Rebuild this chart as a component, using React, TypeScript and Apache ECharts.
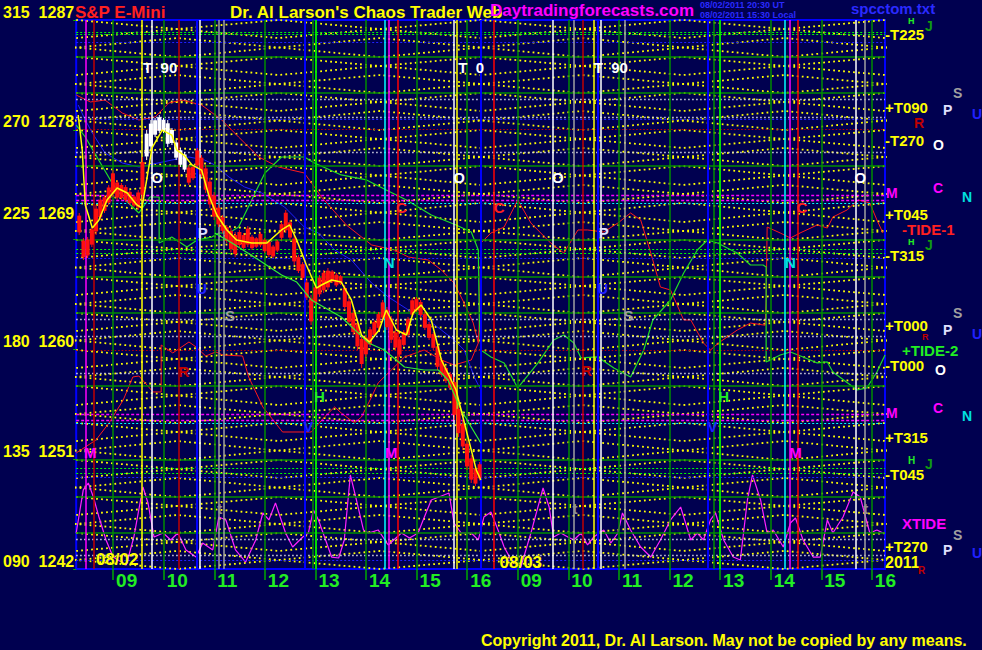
import React, { useEffect, useRef } from "react";
import * as echarts from "echarts";

const BG = "#000050";
const FONT = '"Liberation Sans", Arial, sans-serif';
const NARROW = '"Liberation Sans Narrow", "Liberation Sans", Arial, sans-serif';

// ---------- axes ----------
const priceTicks = [1242, 1251, 1260, 1269, 1278, 1287];
const degreeTicks = ["090", "135", "180", "225", "270", "315"];
const hourTicks = [9, 10, 11, 12, 13, 14, 15, 16, 17, 18, 19, 20, 21, 22, 23, 24];
const hourLabels = ["09", "10", "11", "12", "13", "14", "15", "16", "09", "10", "11", "12", "13", "14", "15", "16"];
const X_MIN = 8.27;
const X_MAX = 24.26;

// ---------- 5-minute bars of 08/02 ----------
const candleStart = 8.33;
const candleStep = 5 / 60;
const candleHigh = [
  1271.18, 1269.13, 1269.21, 1270.03, 1271.83, 1272.49, 1272.65, 1273.47, 1274.7, 1273.88,
  1273.64, 1273.47, 1273.06, 1272.65, 1273.06, 1275.77, 1277.98, 1278.8, 1278.97, 1279.21,
  1278.97, 1278.8, 1278.15, 1277.16, 1276.51, 1276.18, 1275.11, 1275.11, 1276.51, 1275.93,
  1275.11, 1274.05, 1272.9, 1271.83, 1271.01, 1270.2, 1269.95, 1269.62, 1269.79, 1269.54,
  1270.11, 1269.38, 1269.21, 1269.62, 1269.13, 1268.97, 1268.56, 1268.97, 1270.44, 1271.43,
  1270.61, 1269.38, 1267.74, 1267.16, 1265.69, 1264.46, 1265.28, 1266.1, 1266.51, 1266.67,
  1266.51, 1266.26, 1266.1, 1265.28, 1264.21, 1263.23, 1262.41, 1261.18, 1261.18, 1261.84,
  1262.41, 1263.07, 1264.05, 1263.48, 1262.74, 1261.59, 1261.02, 1261.59, 1262.66, 1264.21,
  1264.3, 1264.05, 1263.07, 1262.25, 1261.43, 1260.52, 1259.3, 1258.64, 1258.15, 1257.74,
  1255.44, 1254.21, 1252.57, 1251.34, 1250.44, 1250.77,
];
const candleLow = [
  1269.38, 1267.33, 1267.49, 1268.39, 1269.38, 1270.61, 1271.18, 1271.83, 1272.49, 1272.25,
  1272.25, 1272.08, 1271.83, 1271.67, 1271.43, 1272.25, 1275.52, 1276.34, 1277.41, 1277.74,
  1277.74, 1276.59, 1276.75, 1275.52, 1274.95, 1274.54, 1273.47, 1273.88, 1274.87, 1274.13,
  1272.82, 1271.59, 1270.61, 1270.03, 1269.54, 1268.72, 1267.98, 1267.57, 1268.39, 1268.15,
  1268.39, 1268.15, 1268.31, 1268.39, 1267.9, 1267.57, 1267.49, 1267.98, 1268.97, 1269.54,
  1268.97, 1266.92, 1266.26, 1265.69, 1264.05, 1262.0, 1263.64, 1264.3, 1264.62, 1264.87,
  1265.44, 1265.11, 1265.28, 1263.23, 1262.0, 1261.18, 1259.95, 1258.48, 1259.38, 1260.2,
  1261.02, 1261.59, 1262.41, 1261.59, 1260.52, 1259.95, 1259.38, 1260.2, 1261.02, 1262.66,
  1263.07, 1262.66, 1261.59, 1260.77, 1259.95, 1258.31, 1257.74, 1257.25, 1256.67, 1254.21,
  1252.82, 1251.75, 1250.11, 1249.05, 1248.8, 1249.25,
];
const whiteCandles = [16, 17, 18, 19, 20, 21, 22, 23, 24, 25];

// ---------- curves: [hour, price] ----------
const priceAverage = [
  [8.31, 1279.21], [8.39, 1276.34], [8.45, 1271.84], [8.59, 1269.95], [8.72, 1270.61], [8.88, 1272.25],
  [9.08, 1273.23], [9.28, 1272.82], [9.47, 1271.84], [9.57, 1271.59], [9.67, 1274.05], [9.77, 1276.51],
  [9.97, 1277.98], [10.16, 1277.57], [10.26, 1276.34], [10.4, 1275.93], [10.56, 1275.12], [10.75, 1274.7],
  [10.89, 1272.66], [11.05, 1271.02], [11.25, 1269.79], [11.44, 1268.97], [11.74, 1268.72], [12.04, 1268.72],
  [12.33, 1269.79], [12.49, 1270.2], [12.63, 1268.97], [12.82, 1266.92], [13.02, 1265.03], [13.12, 1265.28],
  [13.32, 1265.69], [13.51, 1265.52], [13.71, 1264.05], [13.91, 1261.18], [14.07, 1260.61], [14.26, 1261.59],
  [14.4, 1263.23], [14.6, 1261.59], [14.8, 1261.18], [14.93, 1262.98], [15.09, 1263.64], [15.29, 1262.41],
  [15.49, 1259.13], [15.78, 1256.67], [15.98, 1253.39], [16.18, 1250.12], [16.27, 1249.3],
];
const priceTrend = [
  [11.01, 1269.54], [11.35, 1268.72], [11.88, 1267.33], [12.33, 1266.1], [12.63, 1265.52], [12.92, 1264.05],
  [13.51, 1262.66], [14.05, 1260.53], [14.36, 1259.95], [14.76, 1258.56], [15.15, 1258.31], [15.43, 1258.31],
  [15.62, 1257.49], [15.88, 1255.03], [16.08, 1253.64], [16.27, 1252.33],
];
const tide2 = [
  [8.27, 1278.39], [8.45, 1277.41], [8.98, 1273.64], [9.18, 1272.49], [9.51, 1271.18], [9.73, 1272.49],
  [9.91, 1272.49], [9.91, 1268.72], [10.16, 1269.21], [10.46, 1268.39], [10.66, 1268.97], [10.95, 1269.21],
  [11.09, 1269.54], [11.29, 1269.54], [11.48, 1270.03], [11.74, 1272.25], [12.0, 1274.46], [12.33, 1275.77],
  [12.78, 1275.77], [12.98, 1275.28], [13.51, 1274.3], [14.01, 1273.89], [14.4, 1273.07], [14.8, 1272.25],
  [15.29, 1271.02], [15.78, 1270.2], [16.08, 1269.62], [16.22, 1268.15], [16.24, 1262.41], [16.27, 1259.95],
  [16.47, 1259.38], [16.73, 1258.89], [17.0, 1256.84], [17.4, 1258.89], [17.71, 1260.77], [17.91, 1261.18],
  [18.11, 1260.53], [18.25, 1259.3], [18.58, 1259.38], [18.9, 1258.48], [19.23, 1257.74], [19.49, 1259.95],
  [19.67, 1262.41], [20.02, 1264.05], [20.28, 1266.26], [20.55, 1268.15], [20.75, 1268.97], [20.95, 1268.72],
  [21.14, 1268.31], [21.34, 1267.9], [21.6, 1266.92], [21.85, 1266.92], [21.91, 1266.75], [21.91, 1258.97],
  [22.19, 1259.54], [22.39, 1259.79], [22.64, 1259.38], [22.92, 1258.89], [23.12, 1258.97], [23.23, 1258.15],
  [23.71, 1256.67], [23.9, 1256.84], [24.1, 1258.15], [24.26, 1259.54],
];
const tide1 = [
  [8.27, 1280.85], [8.55, 1280.28], [8.84, 1280.44], [9.18, 1279.38], [9.51, 1278.8], [9.83, 1279.05],
  [10.1, 1280.2], [10.36, 1280.44], [10.75, 1280.03], [11.15, 1278.8], [11.48, 1277.41], [11.88, 1275.77],
  [12.27, 1274.95], [12.78, 1274.46], [13.12, 1272.49], [13.61, 1270.2], [14.11, 1268.56], [14.56, 1268.15],
  [14.84, 1267.57], [15.23, 1267.33], [15.49, 1266.51], [15.74, 1265.44], [15.94, 1263.8], [16.12, 1262.16],
  [16.22, 1260.53], [16.24, 1262.41], [16.27, 1268.72], [16.47, 1269.54], [16.73, 1270.03], [17.0, 1272.25],
  [17.26, 1270.36], [17.65, 1268.72], [17.91, 1267.9], [18.19, 1269.79], [18.38, 1269.79], [18.7, 1269.62],
  [18.98, 1270.36], [19.23, 1271.18], [19.43, 1270.61], [19.63, 1267.9], [19.82, 1265.11], [20.02, 1264.87],
  [20.28, 1262.41], [20.42, 1262.41], [20.67, 1260.53], [20.81, 1259.95], [20.97, 1260.53], [21.34, 1261.59],
  [21.6, 1262.16], [21.89, 1261.98], [21.91, 1264.05], [21.93, 1270.03], [22.19, 1269.54], [22.39, 1269.13],
  [22.58, 1269.54], [22.92, 1270.2], [23.12, 1269.95], [23.23, 1270.85], [23.51, 1271.43], [23.73, 1272.25],
  [23.96, 1272.0], [24.1, 1270.61], [24.22, 1269.54],
];
const redForecast = [
  [8.27, 1251.51], [8.66, 1252.57], [8.92, 1253.97], [9.2, 1255.85], [9.39, 1257.74], [9.51, 1257.82],
  [9.79, 1256.51], [9.95, 1256.51], [9.95, 1260.36], [10.18, 1259.71], [10.5, 1260.61], [10.64, 1260.2],
  [10.83, 1259.46], [11.03, 1259.79], [11.17, 1259.54], [11.56, 1259.46], [11.68, 1257.74], [11.96, 1255.28],
  [12.35, 1253.23], [12.92, 1253.23], [13.18, 1254.46], [13.38, 1255.28], [13.51, 1254.79], [13.77, 1253.97],
  [13.91, 1254.46], [14.11, 1256.1], [14.24, 1257.25], [14.5, 1258.31], [14.76, 1259.38], [15.15, 1259.95],
  [15.49, 1259.13], [15.74, 1258.72], [16.08, 1259.13], [16.22, 1260.53],
];
const blueCurve = [
  [8.31, 1280.03], [8.45, 1278.8], [8.59, 1277.74], [8.84, 1276.1], [9.18, 1275.28], [9.51, 1274.95],
  [10.16, 1275.52], [10.5, 1275.77], [10.81, 1275.52], [11.01, 1275.12], [11.29, 1274.13], [11.6, 1273.31],
  [11.94, 1272.82], [12.39, 1271.67], [12.78, 1270.03], [13.06, 1269.54], [13.38, 1268.15], [13.71, 1267.33],
  [14.11, 1265.44], [14.44, 1264.3], [14.84, 1263.23], [15.15, 1262.66], [15.49, 1261.59], [15.74, 1260.77],
  [15.94, 1259.95], [16.14, 1257.74], [16.27, 1256.67],
];
const xtide = [
  [8.27, 1244.95], [8.41, 1248.48], [8.51, 1249.05], [8.61, 1247.9], [8.72, 1246.26], [8.86, 1244.38],
  [9.0, 1242.98], [9.26, 1242.33], [9.41, 1244.62], [9.59, 1248.72], [9.69, 1247.41], [9.81, 1244.62],
  [9.99, 1244.95], [10.14, 1244.38], [10.28, 1244.95], [10.44, 1243.56], [10.64, 1242.98], [10.77, 1244.13],
  [10.97, 1243.56], [11.09, 1246.26], [11.23, 1246.02], [11.42, 1243.56], [11.62, 1242.57], [11.82, 1244.38],
  [11.96, 1246.59], [12.08, 1246.02], [12.21, 1247.41], [12.41, 1244.95], [12.55, 1243.8], [12.75, 1244.62],
  [12.86, 1244.95], [12.96, 1246.84], [13.06, 1246.02], [13.32, 1242.98], [13.46, 1242.9], [13.57, 1244.38],
  [13.69, 1249.71], [13.81, 1247.66], [13.95, 1245.2], [14.05, 1244.95], [14.24, 1245.2], [14.44, 1243.97],
  [14.7, 1244.95], [14.86, 1244.54], [15.03, 1244.95], [15.13, 1246.02], [15.29, 1247.66], [15.64, 1248.23],
  [15.74, 1245.77], [15.88, 1244.95], [16.08, 1244.95], [16.22, 1244.38], [16.33, 1246.26], [16.47, 1246.67],
  [16.61, 1245.2], [16.73, 1243.8], [16.87, 1242.74], [17.06, 1242.16], [17.26, 1244.95], [17.5, 1248.64],
  [17.62, 1247.08], [17.71, 1244.62], [17.85, 1244.95], [17.99, 1244.62], [18.11, 1244.38], [18.25, 1244.95],
  [18.38, 1243.97], [18.5, 1244.62], [18.7, 1245.2], [18.84, 1244.13], [18.98, 1244.95], [19.07, 1246.59],
  [19.23, 1245.2], [19.43, 1243.8], [19.63, 1242.98], [19.82, 1244.38], [20.02, 1246.02], [20.22, 1247.08],
  [20.42, 1244.38], [20.55, 1244.95], [20.67, 1244.38], [20.81, 1246.02], [20.91, 1246.59], [21.07, 1244.38],
  [21.26, 1242.98], [21.4, 1242.74], [21.54, 1247.66], [21.64, 1249.71], [21.8, 1247.66], [21.93, 1244.95],
  [22.05, 1245.2], [22.25, 1243.8], [22.39, 1245.77], [22.49, 1246.18], [22.64, 1244.38], [22.84, 1242.98],
  [22.98, 1242.98], [23.12, 1246.02], [23.23, 1244.95], [23.43, 1246.26], [23.63, 1248.31], [23.77, 1247.9],
  [23.96, 1244.95], [24.1, 1245.2], [24.22, 1244.95],
];

// ---------- harmonic levels ----------
const greenLevels = [1283.97, 1281.02, 1275.03, 1268.97, 1265.93, 1262.98, 1257.0, 1250.93, 1247.9, 1244.95];
const brightGreenLevels = [1286.02, 1285.85, 1268.23, 1267.9, 1250.28, 1249.87];
const whiteLevels = [1280.52, 1279.05, 1276.18, 1262.49, 1261.1, 1258.07, 1244.46, 1243.15];
const blueLevels = [1285.2, 1278.89, 1267.49, 1249.54, 1242.74];
const redLevels = [1278.07, 1259.95];
const magentaLevels = [1272.66, 1272.25, 1254.71, 1254.21];
const cyanLevels = [1272.0, 1253.97];
const yellowLevels = [
  1287.0, 1285.52, 1283.97, 1282.49, 1281.02, 1279.54, 1277.98, 1276.51, 1275.03, 1273.48, 1272.0,
  1270.44, 1268.97, 1267.49, 1265.93, 1264.46, 1262.98, 1261.51, 1259.95, 1258.48, 1257.0, 1255.44,
  1253.97, 1252.49, 1250.93, 1249.46, 1247.9, 1246.43, 1244.95, 1243.48, 1242.0,
];
const yellowKnotsA = [8.27, 12.27, 16.27, 20.27, 24.27];
const yellowKnotsB = [6.27, 10.27, 14.27, 18.27, 22.27, 26.27];

// ---------- vertical time lines (hours) ----------
const timeLines: [number, string][] = [
  [8.45, "magenta"], [8.62, "darkred"], [9.57, "yellow"], [9.77, "white"], [10.3, "darkred"], [10.66, "blue"],
  [10.71, "white"], [11.09, "gray"], [11.19, "gray"], [12.78, "blue"], [12.94, "green"], [13.0, "lime"],
  [14.38, "cyan"], [14.44, "magenta"], [14.62, "red"], [15.74, "white"], [15.8, "yellow"], [16.27, "blue"],
  [16.53, "red"], [17.69, "white"], [18.11, "gray"], [18.29, "darkred"], [18.5, "yellow"], [18.58, "blue"],
  [18.64, "white"], [19.11, "gray"], [20.75, "blue"], [20.87, "green"], [20.99, "lime"], [22.27, "cyan"],
  [22.37, "magenta"], [22.54, "red"], [23.69, "white"], [23.85, "gray"],
];

// ---------- letters in the plot: [hour, price, text, kind] ----------
const plotMarks: [number, number, string, string][] = [
  [9.93, 1283.07, "T  90", "T"], [16.08, 1283.07, "T  0", "T"], [18.84, 1283.07, "T  90", "T"],
  [9.87, 1274.05, "O", "O"], [15.84, 1274.05, "O", "O"], [17.79, 1274.05, "O", "O"], [23.77, 1274.05, "O", "O"],
  [10.77, 1269.62, "P", "P"], [18.7, 1269.62, "P", "P"],
  [11.31, 1262.74, "S", "S"], [19.19, 1262.74, "S", "S"],
  [14.7, 1271.67, "C", "C"], [16.63, 1271.67, "C", "C"], [22.62, 1271.67, "C", "C"],
  [14.46, 1267.16, "N", "N"], [22.39, 1267.16, "N", "N"],
  [13.08, 1256.1, "H", "H"], [21.07, 1256.1, "H", "H"],
  [8.55, 1251.51, "M", "M"], [14.5, 1251.51, "M", "M"], [22.49, 1251.51, "M", "M"],
  [10.4, 1258.15, "R", "R"], [18.36, 1258.23, "R", "R"],
  [10.75, 1265.03, "U", "U"], [18.68, 1265.03, "U", "U"],
  [12.86, 1253.64, "V", "V"], [20.85, 1253.64, "V", "V"],
  [11.11, 1247.0, "t", "t"], [18.13, 1247.0, "t", "t"], [23.88, 1247.0, "t", "t"],
  [9.08, 1242.74, "08/02", "D"], [17.06, 1242.57, "08/03", "D"],
];

const COLORS: Record<string, string> = {
  magenta: "#ff00ff", darkred: "#c00000", yellow: "#ffff00", white: "#ffffff", blue: "#0000ff",
  gray: "#a0a0a0", green: "#008c00", lime: "#00ff00", cyan: "#00ffff", red: "#ff0000",
};
const MARK_COLORS: Record<string, string> = {
  T: "#ffffff", O: "#ffffff", P: "#e0e0ff", S: "#a0a0a0", C: "#ff2020", N: "#00e0e0", H: "#22ee22",
  M: "#ff00ff", R: "#c00000", U: "#2020ff", V: "#2020ff", t: "#909090", D: "#ffff00",
};

function buildOption() {
  const hLine = (p: number, color: string, type: any, width: number) => ({
    yAxis: p, lineStyle: { color, type, width },
  });
  const markData: any[] = [];
  greenLevels.forEach((p) => markData.push(hLine(p, "#008c00", "solid", 1.5)));
  brightGreenLevels.forEach((p) => markData.push(hLine(p, "#00ff00", [2, 2], 1)));
  whiteLevels.forEach((p) => markData.push(hLine(p, "#d8d8e8", [1.5, 2.5], 1.3)));
  blueLevels.forEach((p) => markData.push(hLine(p, "#2020ff", [2, 2], 1.2)));
  redLevels.forEach((p) => markData.push(hLine(p, "#c00000", [1.5, 2], 1.2)));
  magentaLevels.forEach((p) => markData.push(hLine(p, "#ff00ff", [3, 2], 1.3)));
  cyanLevels.forEach((p) => markData.push(hLine(p, "#00ffff", [2, 2], 1.2)));
  hourTicks.forEach((h) => markData.push({ xAxis: h, lineStyle: { color: "#008c00", type: "solid", width: 1.5 } }));
  timeLines.forEach(([t, c]) =>
    markData.push({ xAxis: t, lineStyle: { color: COLORS[c], type: "solid", width: c === "blue" ? 2 : 1.5 } })
  );

  const series: any[] = [
    {
      type: "line", data: [], z: 1, silent: true,
      markLine: { silent: true, symbol: ["none", "none"], label: { show: false }, data: markData, animation: false },
    },
  ];

  for (let i = 0; i < yellowLevels.length - 1; i++) {
    const a = yellowLevels[i];
    const b = yellowLevels[i + 1];
    const knots = i % 2 === 0 ? yellowKnotsA : yellowKnotsB;
    const l1 = knots.map((t, k) => [t, k % 2 === 0 ? a : b]);
    const l2 = knots.map((t, k) => [t, k % 2 === 0 ? b : a]);
    [l1, l2].forEach((d) =>
      series.push({
        type: "line", data: d, z: 2, silent: true, symbol: "none", clip: true,
        lineStyle: { color: "#ffff00", width: 1.8, type: [1.8, 3.2] },
      })
    );
  }

  const curve = (data: number[][], color: string, width: number, z = 4) => ({
    type: "line", data, symbol: "none", z, silent: true, clip: true, lineStyle: { color, width },
  });
  series.push(curve(redForecast, "#ff1a1a", 1));
  series.push(curve(tide1, "#ff1a1a", 1));
  series.push(curve(blueCurve, "#2020ff", 1));
  series.push(curve(xtide, "#ff22ff", 1.2));
  series.push(curve(tide2, "#22dd22", 1.2));

  const candleData = candleHigh.map((h, i) => [
    candleStart + i * candleStep, candleLow[i], h, whiteCandles.includes(i) ? 1 : 0,
  ]);
  series.push({
    type: "custom", z: 5, silent: true, data: candleData, encode: { x: 0, y: [1, 2] },
    renderItem: (_p: any, api: any) => {
      const t = api.value(0);
      const top = api.coord([t, api.value(2)]);
      const bot = api.coord([t, api.value(1)]);
      const span = bot[1] - top[1];
      const color = api.value(3) ? "#ffffff" : "#ff1010";
      return {
        type: "group",
        children: [
          { type: "line", shape: { x1: top[0], y1: top[1], x2: top[0], y2: bot[1] }, style: { stroke: color, lineWidth: 1 } },
          { type: "rect", shape: { x: top[0] - 2, y: top[1] + span * 0.12, width: 4, height: span * 0.76 }, style: { fill: color } },
        ],
      };
    },
  });
  series.push(curve(priceTrend, "#33ee33", 1.2, 6));
  series.push(curve(priceAverage, "#ffff00", 1.5, 6));

  // planet letters drawn at their data positions
  series.push({
    type: "custom", z: 9, silent: true, clip: false,
    data: plotMarks.map(([t, p], i) => [t, p, i]),
    encode: { x: 0, y: 1 },
    renderItem: (_p: any, api: any) => {
      const pt = api.coord([api.value(0), api.value(1)]);
      const m = plotMarks[api.value(2)];
      return {
        type: "text", x: pt[0], y: pt[1],
        style: {
          text: m[2], fill: MARK_COLORS[m[3]], fontSize: m[3] === "D" ? 17 : 15, fontWeight: "bold",
          fontFamily: m[3] === "D" ? NARROW : FONT, align: "center", verticalAlign: "middle",
        },
      };
    },
  });

  const txt = (x: number, y: number, text: string, fill: string, size: number, family = FONT, weight = "bold") => ({
    type: "text", x, y, silent: true, z: 20,
    style: { text, fill, fontSize: size, fontFamily: family, fontWeight: weight, align: "left", verticalAlign: "middle" },
  });
  const Y = "#ffff00";
  const graphics = [
    txt(75, 12, "S&P E-Mini", "#ff2020", 17),
    txt(230, 12, "Dr. Al Larson's Chaos Trader Web", Y, 17),
    txt(490, 10, "Daytradingforecasts.com", "#ff00ff", 17),
    txt(700, 5, "08/02/2011 20:30 UT", "#2a2aff", 9),
    txt(700, 14.5, "08/02/2011 15:30 Local", "#2a2aff", 9),
    txt(851, 8, "spcctom.txt", "#2a2aff", 15),
    txt(481, 640, "Copyright 2011, Dr. Al Larson. May not be copied by any means.", Y, 16),
    // right-hand planet / tide legend
    txt(885, 34, "-T225", Y, 15, NARROW), txt(908, 21, "H", "#22ee22", 9), txt(925, 26, "J", "#119911", 14),
    txt(953, 93, "S", "#a0a0a0", 14), txt(885, 107, "+T090", Y, 15, NARROW), txt(943, 110, "P", "#e0e0ff", 14),
    txt(972, 114, "U", "#2020ff", 14), txt(914, 123, "R", "#c00000", 14),
    txt(885, 140, "-T270", Y, 15, NARROW), txt(933, 145, "O", "#ffffff", 14),
    txt(886, 193, "M", "#ff00ff", 14), txt(933, 188, "C", "#ff00ff", 14), txt(962, 197, "N", "#00e0e0", 14),
    txt(885, 214, "+T045", Y, 15, NARROW), txt(902, 229.5, "-TIDE-1", "#ff2020", 15, NARROW),
    txt(908, 242, "H", "#22ee22", 9), txt(925, 245, "J", "#119911", 14),
    txt(885, 255, "-T315", Y, 15, NARROW),
    txt(953, 313, "S", "#a0a0a0", 14), txt(885, 325, "+T000", Y, 15, NARROW), txt(943, 330, "P", "#e0e0ff", 14),
    txt(972, 334, "U", "#2020ff", 14), txt(922, 337, "R", "#c00000", 9),
    txt(902, 350, "+TIDE-2", "#22ee22", 15, NARROW), txt(885, 365.5, "-T000", Y, 15, NARROW),
    txt(935, 370, "O", "#ffffff", 14),
    txt(886, 413, "M", "#ff00ff", 14), txt(933, 408, "C", "#ff00ff", 14), txt(962, 416, "N", "#00e0e0", 14),
    txt(885, 437, "+T315", Y, 15, NARROW),
    txt(908, 460, "H", "#22ee22", 10), txt(925, 464, "J", "#119911", 14),
    txt(885, 474, "-T045", Y, 15, NARROW),
    txt(902, 523, "XTIDE", "#ff00ff", 15, NARROW),
    txt(953, 535, "S", "#a0a0a0", 14), txt(885, 546, "+T270", Y, 15, NARROW), txt(943, 550, "P", "#e0e0ff", 14),
    txt(972, 553, "U", "#2020ff", 14), txt(885, 562, "2011", Y, 16, NARROW), txt(918, 570, "R", "#c00000", 10),
  ];

  return {
    animation: false,
    backgroundColor: BG,
    grid: { left: 74, right: 97, top: 20, bottom: 81, show: true, borderColor: "#0000ff", borderWidth: 2, backgroundColor: "transparent" },
    xAxis: {
      type: "value", min: X_MIN, max: X_MAX,
      axisLine: { show: false }, splitLine: { show: false },
      axisTick: { show: true, customValues: hourTicks, length: 11, lineStyle: { color: "#00aa00", width: 1.5 } },
      axisLabel: {
        customValues: hourTicks, color: "#22ee22", fontSize: 19, fontWeight: "bold", fontFamily: NARROW,
        align: "left", margin: 2, padding: [0, 0, 0, 3],
        formatter: (v: number) => {
          const i = hourTicks.indexOf(Math.round(v));
          return i >= 0 ? hourLabels[i] : "";
        },
      },
    },
    yAxis: {
      type: "value", min: 1242, max: 1287, interval: 9,
      axisLine: { show: false }, splitLine: { show: false },
      axisTick: { show: true, length: 3, lineStyle: { color: "#00aa00" } },
      axisLabel: {
        customValues: priceTicks, color: "#ffff00", fontSize: 16, fontWeight: "bold", fontFamily: FONT,
        margin: 2, verticalAlign: "bottom",
        formatter: (v: number) => {
          const i = priceTicks.indexOf(Math.round(v));
          if (i < 0) return "";
          const s = degreeTicks[i] + "  " + priceTicks[i];
          return i === 3 ? "{up|" + s + "}" : s;
        },
        rich: { up: { color: "#ffff00", fontSize: 16, fontWeight: "bold", fontFamily: FONT, padding: [0, 0, 18, 0] } },
      },
    },
    graphic: graphics,
    series,
  };
}

export default function App() {
  const ref = useRef<HTMLDivElement>(null);
  useEffect(() => {
    document.body.style.margin = "0";
    document.body.style.background = BG;
    const chart = echarts.init(ref.current!, null, { renderer: "svg" });
    chart.setOption(buildOption() as any);
    return () => chart.dispose();
  }, []);
  return (
    <div
      ref={ref}
      style={{ position: "fixed", left: 0, top: 0, width: 982, height: 650, background: BG }}
    />
  );
}
